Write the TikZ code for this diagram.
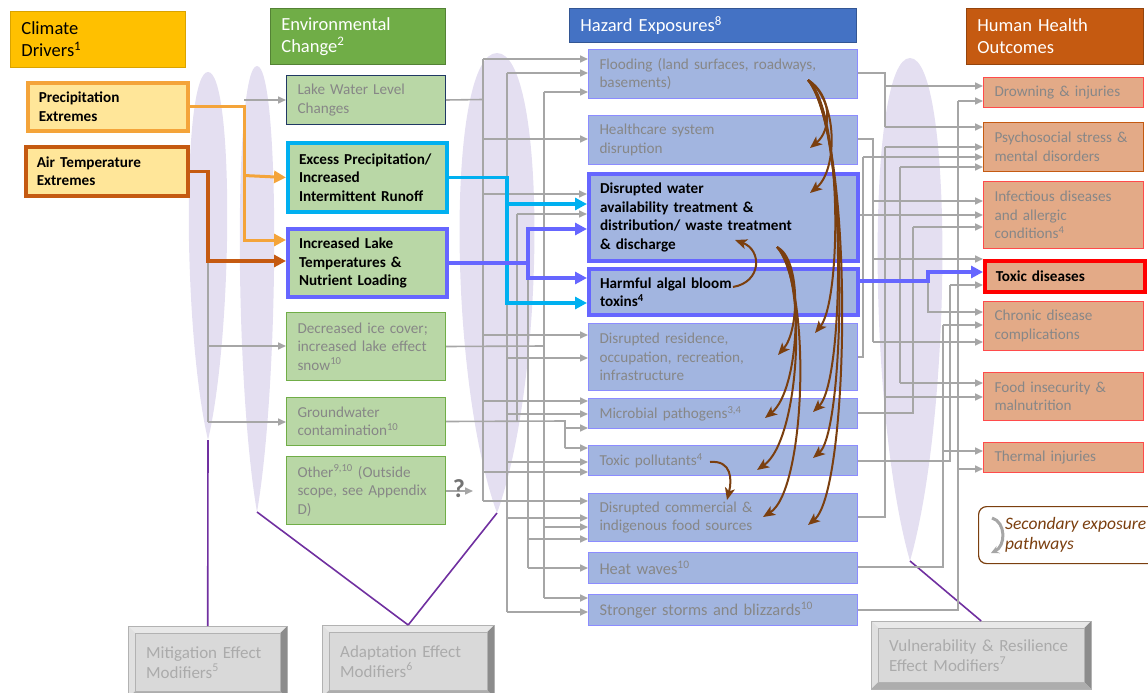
\documentclass[tikz,border=0pt]{standalone}
\usepackage{fontspec}
\setmainfont{Carlito}
\usepackage{tikz}
\usetikzlibrary{calc,arrows.meta}

\definecolor{drvgold}{HTML}{FFC000}
\definecolor{drvfill}{HTML}{FFE699}
\definecolor{precor}{HTML}{F4A43A}
\definecolor{airor}{HTML}{C55A11}
\definecolor{envgreen}{HTML}{70AD47}
\definecolor{envfill}{HTML}{B9D7A6}
\definecolor{navy}{HTML}{203864}
\definecolor{hazblue}{HTML}{4472C4}
\definecolor{hazfill}{HTML}{A2B5E0}
\definecolor{hazline}{HTML}{8C8CFF}
\definecolor{outfill}{HTML}{E3AA87}
\definecolor{outred}{HTML}{FF4B4B}
\definecolor{runcyan}{HTML}{00B0F0}
\definecolor{nutblue}{HTML}{6666FF}
\definecolor{linegrey}{HTML}{A6A6A6}
\definecolor{textgrey}{HTML}{878787}
\definecolor{lavender}{HTML}{E4DFF1}
\definecolor{modpurple}{HTML}{7030A0}
\definecolor{secbrown}{HTML}{7B3F0F}
\definecolor{modfill}{HTML}{D9D9D9}
\definecolor{modtext}{HTML}{ABABAB}

\newcommand{\bxfont}{\fontsize{15.2}{18.5}\selectfont}
\newcommand{\hdfont}{\fontsize{18.5}{22}\selectfont}
\newcommand{\mdfont}{\fontsize{17}{20}\selectfont}
\newcommand{\hwfont}{\fontsize{16.4}{20}\selectfont}

% bevelled frame round a modifier node
\newcommand{\bevelbox}[1]{%
  \fill[black!9] (#1.north west) -- (#1.north east) -- ([shift={(-7,7)}]#1.north east) -- ([shift={(7,7)}]#1.north west) -- cycle;
  \fill[black!12] (#1.north west) -- (#1.south west) -- ([shift={(7,-7)}]#1.south west) -- ([shift={(7,7)}]#1.north west) -- cycle;
  \fill[black!45] (#1.north east) -- (#1.south east) -- ([shift={(-7,-7)}]#1.south east) -- ([shift={(-7,7)}]#1.north east) -- cycle;
  \fill[black!32] (#1.south west) -- (#1.south east) -- ([shift={(-7,-7)}]#1.south east) -- ([shift={(7,-7)}]#1.south west) -- cycle;
  \draw[black!30] (#1.north west) rectangle (#1.south east);
  \draw[black!30] ([shift={(7,7)}]#1.north west) rectangle ([shift={(-7,-7)}]#1.south east);
}

\begin{document}
\begin{tikzpicture}[x=1pt, y=-1pt,
  box/.style={anchor=north west, inner xsep=11pt, inner ysep=2pt, align=left, text=textgrey, font=\bxfont},
  hdr/.style={box, text=white, font=\hdfont, line width=0.8pt},
  drv/.style={box, fill=drvfill, text=black, font=\bxfont\bfseries, line width=3.5pt, text width=138pt},
  env/.style={box, fill=envfill, draw=envgreen, line width=1pt, text width=137pt},
  haz/.style={box, fill=hazfill, draw=hazline, line width=1pt, text width=247pt},
  outbox/.style={box, fill=outfill, draw=outred, line width=1pt, text width=138pt},
  key/.style={line width=4pt, draw=nutblue, text=black, font=\bxfont\bfseries},
  mod/.style={anchor=north west, fill=modfill, text=modtext, font=\mdfont, align=left, inner xsep=18pt},
  gln/.style={draw=linegrey, line width=1.6pt},
  gl/.style={gln, -{Triangle[length=8pt,width=7pt]}},
  fat/.style={line width=3.5pt, -{Triangle[length=12pt,width=12pt]}},
  precl/.style={fat, draw=precor, line width=3pt},
  airl/.style={fat, draw=airor},
  cyl/.style={fat, draw=runcyan},
  nutl/.style={fat, draw=nutblue},
  modl/.style={draw=modpurple, line width=1.6pt},
  sec/.style={draw=secbrown, line width=2pt, -{Stealth[length=12pt,width=10pt,inset=3pt]}}
]
\useasboundingbox (0,0) rectangle (1148,693);

% effect modifier bands
\foreach \ex/\ya/\yb/\ew in {208/72/440/19, 257/66/512/17, 497/53/513/37, 910/58/561/32}
  \fill[lavender] (\ex,\yb) .. controls ({\ex-1.35*\ew},{\yb-0.3*(\yb-\ya)}) and ({\ex-1.35*\ew},\ya) .. (\ex,\ya)
    .. controls ({\ex+1.35*\ew},\ya) and ({\ex+1.35*\ew},{\yb-0.3*(\yb-\ya)}) .. (\ex,\yb) -- cycle;
\coordinate (band1) at (208,440);
\coordinate (band2) at (257,512);
\coordinate (band3) at (497,513);
\coordinate (band4) at (910,561);

% column headers
\node[hdr, fill=drvgold, draw=drvgold!85!black, text=black, text width=153pt, minimum height=56pt] (cdhdr) at (10,11) {Climate\\Drivers\textsuperscript{1}};
\node[hdr, fill=envgreen, draw=envgreen!75!black, text width=153pt, minimum height=56pt] (echdr) at (270,8) {Environmental\\Change\textsuperscript{2}};
\node[hdr, fill=hazblue, draw=hazblue!75!black, text width=265pt, minimum height=34pt] (hzhdr) at (569,8) {Hazard Exposures\textsuperscript{8}};
\node[hdr, fill=airor, draw=airor!75!black, text width=155pt, minimum height=56pt] (hohdr) at (966,8) {Human Health\\Outcomes};

% climate drivers
\node[drv, draw=precor, minimum height=48pt] (precip) at (26,81) {Precipitation\\Extremes};
\node[drv, draw=airor, minimum height=49pt, text width=140pt] (airtemp) at (24,145) {Air Temperature\\Extremes};

% environmental change
\node[env, draw=navy, minimum height=49pt] (lwl) at (286,75) {Lake Water Level\\Changes};
\node[env, key, draw=runcyan, minimum height=69pt] (runoff) at (286,141) {Excess Precipitation/\\Increased\\Intermittent Runoff};
\node[env, key, minimum height=68pt] (laketemp) at (286,227) {Increased Lake\\Temperatures \&\\Nutrient Loading};
\node[env, minimum height=68pt] (icecover) at (286,312) {Decreased ice cover;\\increased lake effect\\snow\textsuperscript{10}};
\node[env, minimum height=48pt] (gwater) at (286,397) {Groundwater\\contamination\textsuperscript{10}};
\node[env, minimum height=68pt] (other) at (286,456) {Other\textsuperscript{9,10} (Outside\\scope, see Appendix\\D)};

% hazard exposures
\node[haz, minimum height=49pt] (flood) at (588,49) {Flooding (land surfaces, roadways,\\basements)};
\node[haz, minimum height=49pt] (health) at (588,115) {Healthcare system\\disruption};
\node[haz, key, minimum height=87pt] (water) at (587,172) {Disrupted water\\availability treatment \&\\distribution/ waste treatment\\\& discharge};
\node[haz, key, minimum height=46pt] (bloom) at (587,267) {Harmful algal bloom\\toxins\textsuperscript{4}};
\node[haz, minimum height=67pt] (resid) at (588,323) {Disrupted residence,\\occupation, recreation,\\infrastructure};
\node[haz, minimum height=30pt] (microb) at (588,398) {Microbial pathogens\textsuperscript{3,4}};
\node[haz, minimum height=30pt] (toxpol) at (588,445) {Toxic pollutants\textsuperscript{4}};
\node[haz, minimum height=48pt] (foodsrc) at (588,493) {Disrupted commercial \&\\indigenous food sources};
\node[haz, minimum height=31pt, font=\hwfont] (heat) at (588,552) {Heat waves\textsuperscript{10}};
\node[haz, minimum height=31pt, font=\hwfont] (storms) at (588,594) {Stronger storms and blizzards\textsuperscript{10}};

% health outcomes
\node[outbox, minimum height=30pt] (drown) at (983,77) {Drowning \& injuries};
\node[outbox, draw=airor, minimum height=49pt] (psych) at (983,122) {Psychosocial stress \&\\mental disorders};
\node[outbox, minimum height=67pt] (infect) at (983,181) {Infectious diseases\\and allergic\\conditions\textsuperscript{4}};
\node[outbox, draw=red, line width=3.5pt, text=black, font=\bxfont\bfseries, minimum height=31pt] (toxdis) at (983,259) {Toxic diseases};
\node[outbox, minimum height=49pt] (chronic) at (983,301) {Chronic disease\\complications};
\node[outbox, minimum height=48pt] (foodins) at (983,372) {Food insecurity \&\\malnutrition};
\node[outbox, minimum height=30pt] (thermal) at (983,442) {Thermal injuries};

% legend
\node[anchor=north west, draw=secbrown, line width=1.2pt, rounded corners=8pt, fill=white, minimum width=180pt, minimum height=57pt] (legend) at (978,506) {};
\node[anchor=west, align=left, inner sep=0pt, text=secbrown, font=\fontsize{17.5}{20}\selectfont\itshape] (legtxt) at ([xshift=27pt]legend.west) {Secondary exposure\\pathways};
\draw[linegrey, line width=3pt, -{Stealth[length=8pt,width=8pt,inset=3pt]}] ([shift={(14,12)}]legend.north west) .. controls ([shift={(28,16)}]legend.north west) and ([shift={(28,40)}]legend.north west) .. ([shift={(13,47)}]legend.north west);

% modifiers
\node[mod, minimum width=159pt, minimum height=72pt, text width=123pt] (mitig) at (128,626) {Mitigation Effect\\Modifiers\textsuperscript{5}};
\node[mod, minimum width=172pt, minimum height=72pt, text width=136pt] (adapt) at (322,625) {Adaptation Effect\\Modifiers\textsuperscript{6}};
\node[mod, minimum width=220pt, minimum height=68pt, text width=184pt] (vuln) at (871,621) {Vulnerability \& Resilience\\Effect Modifiers\textsuperscript{7}};
\bevelbox{mitig}
\bevelbox{adapt}
\bevelbox{vuln}
\draw[modl] (band1) -- (mitig.north);
\draw[modl] (band2) -- (adapt.north);
\draw[modl] (band3) -- (adapt.north);
\draw[modl] (band4) -- (vuln.north);

% grey pathways, drivers to change
\draw[gl] (244,100) -- (lwl.west |- 0,100);
\draw[gln] (208,261) -- (208,422);
\draw[gl] (208,346) -- (icecover.west |- 0,346);
\draw[gl] (208,422) -- (gwater.west |- 0,422);

% grey pathways, change to hazards
\draw[gln] (lwl.east) -- (483,99.5);
\draw[gln] (483,59) -- (483,501);
\foreach \y/\t in {59/flood,139/health,194/water,335/resid,401/microb,472/toxpol,501/foodsrc}
  \draw[gl] (483,\y) -- (\t.west |- 0,\y);
\draw[gln] (507,73) -- (507,612);
\foreach \y/\t in {73/flood,358/resid,414/microb,462/toxpol,518/foodsrc,612/storms}
  \draw[gl] (507,\y) -- (\t.west |- 0,\y);
\draw[gln] (gwater.east) -- (565,421) -- (565,448);
\draw[gln] (517,214) -- (517,421);
\draw[gl] (517,214) -- (water.west |- 0,214);
\foreach \y/\t in {428/microb,448/toxpol}
  \draw[gl] (565,\y) -- (\t.west |- 0,\y);
\draw[gln] (528,261) -- (528,568);
\foreach \y/\t in {539/foodsrc,568/heat}
  \draw[gl] (528,\y) -- (\t.west |- 0,\y);
\draw[gln] (icecover.east) -- (544,346);
\draw[gln] (544,92) -- (544,598);
\foreach \y/\t in {92/flood,527/foodsrc,598/storms}
  \draw[gl] (544,\y) -- (\t.west |- 0,\y);
\draw[gl] (other.east |- 0,491) -- (473,491);
\node[text=black!55, font=\fontsize{26}{26}\selectfont\bfseries] (qmark) at (459,489) {?};

% grey pathways, hazards to outcomes
\draw[gln] (flood.east |- 0,73) -| (885,127);
\foreach \y/\t in {86/drown,127/psych}
  \draw[gl] (885,\y) -- (\t.west |- 0,\y);
\draw[gln] (health.east |- 0,139) -| (873,342);
\foreach \y/\t in {201/infect,259/toxdis,342/chronic}
  \draw[gl] (873,\y) -- (\t.west |- 0,\y);
\draw[gl] (water.east |- 0,215) -- (infect.west |- 0,215);
\draw[gln] (resid.east |- 0,357) -| (863,157);
\draw[gl] (863,157) -- (psych.west |- 0,157);
\draw[gln] (microb.east |- 0,413) -| (913,227);
\draw[gl] (913,227) -- (infect.west |- 0,227);
\draw[gln] (900,167) -- (900,383);
\foreach \y/\t in {167/psych,383/foodins}
  \draw[gl] (900,\y) -- (\t.west |- 0,\y);
\draw[gln] (toxpol.east |- 0,461) -| (950,285);
\draw[gl] (950,285) -- (toxdis.west |- 0,285);
\draw[gl] (928,281) |- (chronic.west |- 0,312);
\draw[gln] (foodsrc.east |- 0,517) -| (885,147);
\foreach \y/\t in {147/psych,397/foodins}
  \draw[gl] (885,\y) -- (\t.west |- 0,\y);
\draw[gln] (heat.east |- 0,567) -| (943,325);
\foreach \y/\t in {325/chronic,451/thermal}
  \draw[gl] (943,\y) -- (\t.west |- 0,\y);
\draw[gln] (storms.east |- 0,610) -| (958,101);
\foreach \y/\t in {101/drown,469/thermal}
  \draw[gl] (958,\y) -- (\t.west |- 0,\y);

% coloured key pathways
\draw[precl] (precip.east) -| (244,240) -- (laketemp.west |- 0,240);
\draw[precl] (244,175.5) -- (runoff.west);
\draw[airl] (airtemp.east) -| (208,261) -- (laketemp.west |- 0,261);
\draw[cyl] (runoff.east) -| (507,303) -- (bloom.west |- 0,303);
\draw[cyl] (507,204) -- (water.west |- 0,204);
\draw[nutl] (laketemp.east) -| (528,229) -- (water.west |- 0,229);
\draw[nutl] (528,261) |- (bloom.west |- 0,278);
\draw[nutl] (bloom.east |- 0,281) -| (928,272) -- (toxdis.west |- 0,272);

% secondary exposure pathways
\coordinate (flsrc) at (808,80);
\coordinate (wtsrc) at (777,247);
\coordinate (hbsrc) at (733,287);
\coordinate (tpsrc) at (710,462);
\draw[sec] (flsrc) .. controls (832,95) and (832,130) .. (810,148);
\draw[sec] (flsrc) .. controls (838,100) and (838,170) .. (810,193);
\draw[sec] (flsrc) .. controls (842,110) and (842,300) .. (815,333);
\draw[sec] (flsrc) .. controls (846,120) and (846,380) .. (813,412);
\draw[sec] (flsrc) .. controls (850,130) and (846,430) .. (813,458);
\draw[sec] (flsrc) .. controls (855,140) and (850,490) .. (808,525);
\draw[sec] (wtsrc) .. controls (800,258) and (800,330) .. (778,355);
\draw[sec] (wtsrc) .. controls (805,268) and (800,390) .. (765,418);
\draw[sec] (wtsrc) .. controls (808,278) and (800,440) .. (757,470);
\draw[sec] (wtsrc) .. controls (812,288) and (806,490) .. (763,517);
\draw[sec] (hbsrc) .. controls (762,282) and (762,250) .. (735,240);
\draw[sec] (tpsrc) .. controls (732,460) and (732,480) .. (727,500);
\end{tikzpicture}
\end{document}
